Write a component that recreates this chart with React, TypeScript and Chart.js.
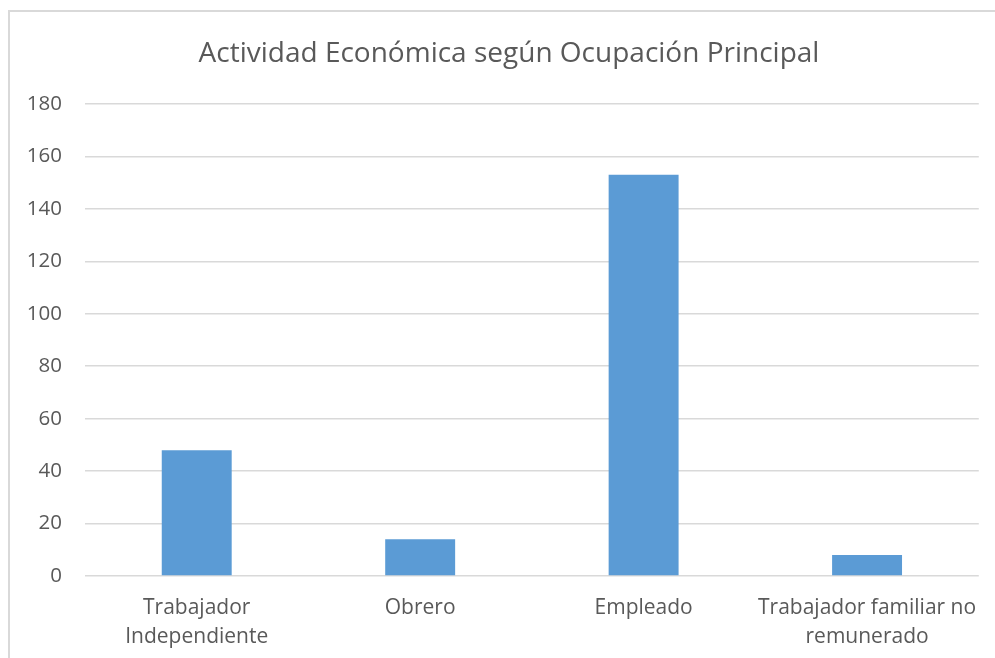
import React, { useEffect, useRef } from "react";
import { Chart, registerables } from "chart.js";

Chart.register(...registerables);

const titleText = "Actividad Económica según Ocupación Principal";
const categories: string[][] = [
  ["Trabajador", "Independiente"],
  ["Obrero"],
  ["Empleado"],
  ["Trabajador familiar no", "remunerado"],
];
const values: number[] = [48, 14, 153, 8];
const yMin = 0;
const yMax = 180;
const yStep = 20;

const FONT = "'Open Sans', sans-serif";
const TEXT = "#595959";
const GRID = "#d9d9d9";
const BAR = "#5B9BD5";

const titleShift = {
  id: "titleShift",
  afterLayout(chart: any) {
    const t = chart.titleBlock;
    if (t) t.left = 38;
  },
};

export default function App() {
  const ref = useRef<HTMLCanvasElement | null>(null);

  useEffect(() => {
    if (!ref.current) return;
    const chart = new Chart(ref.current, {
      type: "bar",
      data: {
        labels: categories,
        datasets: [
          {
            data: values,
            backgroundColor: BAR,
            borderWidth: 0,
            categoryPercentage: 1,
            barPercentage: 0.313,
          },
        ],
      },
      plugins: [titleShift],
      options: {
        animation: false,
        responsive: false,
        layout: { padding: { left: 0, right: 15, top: 0, bottom: 0 } },
        plugins: {
          legend: { display: false },
          tooltip: { enabled: false },
          title: {
            display: true,
            text: titleText,
            color: TEXT,
            font: { family: FONT, size: 28, weight: "normal", lineHeight: 1.2 },
            padding: { top: 37, bottom: 33.4 },
          },
        },
        scales: {
          x: {
            grid: { display: false, drawTicks: false },
            border: { display: false },
            ticks: {
              color: TEXT,
              font: { family: FONT, size: 21, lineHeight: 1.4 },
              padding: 17,
              maxRotation: 0,
              autoSkip: false,
            },
            afterFit: (s: any) => {
              s.height = 82;
            },
          },
          y: {
            min: yMin,
            max: yMax,
            grid: { color: GRID, lineWidth: 1.5, drawTicks: false },
            border: { display: false },
            ticks: {
              stepSize: yStep,
              color: TEXT,
              font: { family: FONT, size: 20.5 },
              padding: 23,
            },
            afterFit: (s: any) => {
              s.width = 85;
            },
          },
        },
      },
    });
    return () => chart.destroy();
  }, []);

  return (
    <div
      style={{
        position: "fixed",
        left: 0,
        top: 0,
        width: 995,
        height: 658,
        overflow: "hidden",
        background: "#fff",
      }}
    >
      <div
        style={{
          position: "absolute",
          left: 8,
          top: 10,
          width: 1100,
          height: 800,
          border: "2px solid #d9d9d9",
          boxSizing: "border-box",
        }}
      />
      <canvas
        ref={ref}
        width={995}
        height={658}
        style={{ position: "absolute", left: 0, top: 0, width: 995, height: 658 }}
      />
    </div>
  );
}
